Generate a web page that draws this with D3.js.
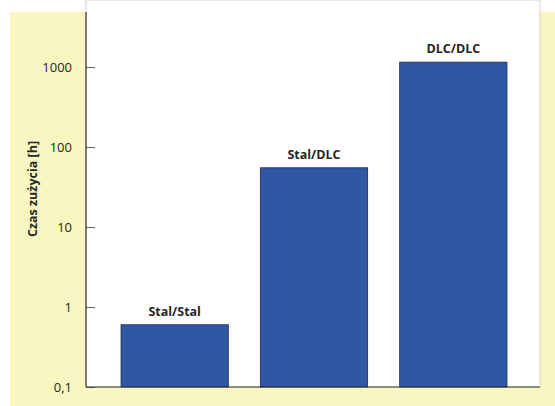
<!DOCTYPE html>
<html>
<head>
<meta charset="utf-8">
<script src="https://cdn.jsdelivr.net/npm/d3@7"></script>
<style>
  body { margin: 0; background: #fff; }
  svg { display: block; font-family: "Open Sans", sans-serif; }
</style>
</head>
<body>
<svg id="chart"></svg>
<script>
// data
var pairs = ["Stal/Stal", "Stal/DLC", "DLC/DLC"];
var lifetimes = [0.6, 55, 1150];
var tickValues = [0.1, 1, 10, 100, 1000];
var tickLabels = ["0,1", "1", "10", "100", "1000"];

var width = 555, height = 406;

var svg = d3.select("#chart")
  .attr("width", width)
  .attr("height", height);

// pale yellow page panel with the white plot sitting on it
svg.append("rect")
  .attr("x", 10).attr("y", 12)
  .attr("width", width - 10).attr("height", height - 12)
  .attr("fill", "#faf6c2");

svg.append("rect")
  .attr("x", 86).attr("y", 0)
  .attr("width", 454).attr("height", 387)
  .attr("fill", "#fff")
  .attr("stroke", "#c8c8c0")
  .attr("stroke-width", 0.8);

var x = d3.scaleBand()
  .domain(pairs)
  .range([105, 523])
  .paddingInner(0.23)
  .paddingOuter(0.115);

var y = d3.scaleLog()
  .domain([0.1, 4870])
  .range([387, 12]);

// bars
svg.selectAll("rect.bar")
  .data(pairs)
  .join("rect")
  .attr("class", "bar")
  .attr("x", d => x(d))
  .attr("width", x.bandwidth())
  .attr("y", (d, i) => y(lifetimes[i]))
  .attr("height", (d, i) => y(0.1) - y(lifetimes[i]))
  .attr("fill", "#2f57a4")
  .attr("stroke", "#1c2c4c")
  .attr("stroke-width", 0.8);

svg.selectAll("text.lbl")
  .data(pairs)
  .join("text")
  .attr("class", "lbl")
  .attr("x", d => x(d) + x.bandwidth() / 2)
  .attr("y", (d, i) => y(lifetimes[i]) - 9)
  .attr("text-anchor", "middle")
  .attr("font-size", 12.5)
  .attr("font-weight", "bold")
  .attr("fill", "#262626")
  .text(d => d);

// y axis
var yAxis = d3.axisRight(y)
  .tickValues(tickValues)
  .tickSize(9)
  .tickFormat((d, i) => tickLabels[i]);

var ax = svg.append("g")
  .attr("transform", "translate(86,0)")
  .call(yAxis);

ax.select(".domain").remove();
ax.selectAll(".tick line").attr("stroke", "#555").attr("stroke-width", 0.9);
ax.selectAll(".tick text")
  .attr("x", -14)
  .attr("text-anchor", "end")
  .attr("font-family", "Open Sans, sans-serif")
  .attr("font-size", 13)
  .attr("fill", "#262626");

// axis lines
svg.append("line")
  .attr("x1", 86).attr("x2", 86)
  .attr("y1", 12).attr("y2", 387)
  .attr("stroke", "#333").attr("stroke-width", 1.2);

svg.append("line")
  .attr("x1", 86).attr("x2", 540)
  .attr("y1", 387).attr("y2", 387)
  .attr("stroke", "#333").attr("stroke-width", 1.2);

svg.append("text")
  .attr("transform", "translate(37,189) rotate(-90)")
  .attr("text-anchor", "middle")
  .attr("font-size", 12.5)
  .attr("font-weight", "bold")
  .attr("fill", "#262626")
  .text("Czas zużycia [h]");
</script>
</body>
</html>
